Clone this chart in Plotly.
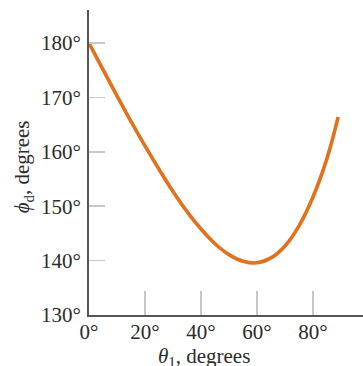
import plotly.graph_objects as go

# incidence angle theta_1 (degrees) and deviation phi_d (degrees)
theta1 = [0, 5, 10, 15, 20, 25, 30, 35, 40, 45, 50, 55, 60, 65, 70, 75, 80, 85, 89]
phi_d = [180.0, 175.1, 170.3, 165.6, 161.1, 156.8, 152.7, 149.0, 145.8, 143.1,
         141.1, 139.9, 139.6, 140.5, 142.7, 146.4, 151.7, 158.8, 166.4]

x_ticks = [0, 20, 40, 60, 80]
x_tick_labels = ["0°", "20°", "40°", "60°", "80°"]
y_ticks = [130, 140, 150, 160, 170, 180]
y_tick_labels = ["130°", "140°", "150°", "160°", "170°", "180°"]

FONT = "Liberation Serif"
TXT = "#2b2b2b"
FS = 21

fig = go.Figure()
fig.add_trace(go.Scatter(
    x=theta1, y=phi_d, mode="lines",
    line=dict(color="#E2711D", width=3.6, shape="spline", smoothing=1.0),
    hoverinfo="skip", cliponaxis=False,
))

fig.update_layout(
    width=363, height=366,
    margin=dict(l=89, r=0, t=10, b=51, autoexpand=False),
    paper_bgcolor="white", plot_bgcolor="white",
    showlegend=False,
    font=dict(family=FONT, size=FS, color=TXT),
    xaxis=dict(
        range=[0, 97.86], tickmode="array", tickvals=x_ticks, ticktext=x_tick_labels,
        ticks="inside", ticklen=24, tickwidth=1.5, tickcolor="#c8c8c8",
        ticklabelstandoff=-3, automargin=False,
        showline=True, linecolor="#555555", linewidth=2,
        showgrid=False, zeroline=False, fixedrange=True,
        tickfont=dict(family=FONT, size=FS, color=TXT),
    ),
    yaxis=dict(
        range=[130, 186.07], tickmode="array", tickvals=y_ticks, ticktext=y_tick_labels,
        ticks="inside", ticklen=16, tickwidth=1.5, tickcolor="#c8c8c8",
        ticklabelstandoff=2, automargin=False,
        showline=True, linecolor="#555555", linewidth=2,
        showgrid=False, zeroline=False, fixedrange=True,
        tickfont=dict(family=FONT, size=FS, color=TXT),
    ),
    annotations=[
        dict(text="<i>θ</i><sub>1</sub>, degrees", xref="paper", yref="paper",
             x=0.4197, y=-0.139, xanchor="center", yanchor="middle",
             showarrow=False, font=dict(family=FONT, size=FS, color=TXT)),
        dict(text="<i>ϕ</i><sub>d</sub>, degrees", xref="paper", yref="paper",
             x=-0.24, y=0.485, xanchor="center", yanchor="middle", textangle=-90,
             showarrow=False, font=dict(family=FONT, size=FS, color=TXT)),
    ],
)

fig.write_html(
    "out.html",
    config={"displayModeBar": False, "staticPlot": True},
    post_script="document.body.style.margin='0';document.body.style.overflow='hidden';",
)
